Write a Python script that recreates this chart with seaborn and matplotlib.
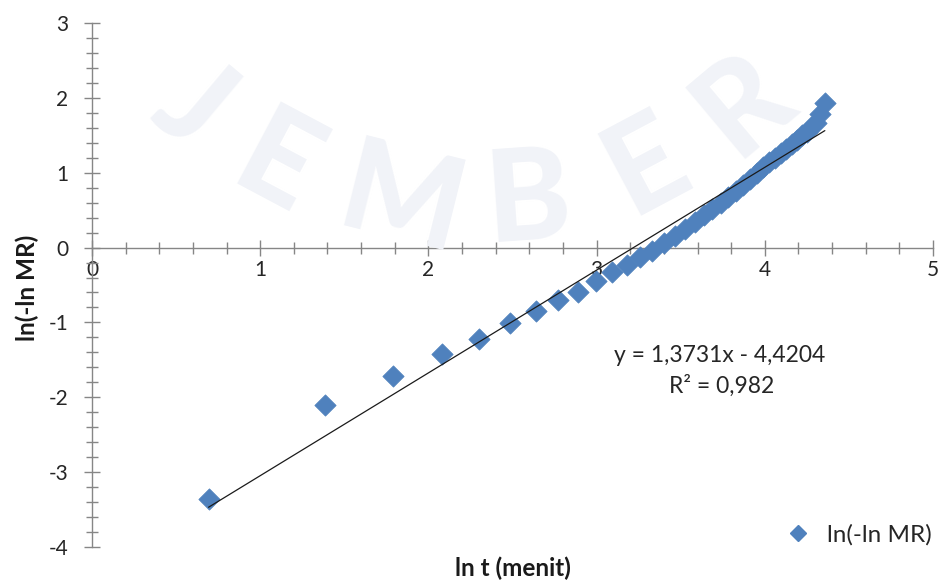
import matplotlib
matplotlib.use("Agg")
import matplotlib.pyplot as plt
import numpy as np
import pandas as pd
import seaborn as sns
from matplotlib.ticker import MultipleLocator
from matplotlib.lines import Line2D

# ln t (menit) for t = 2, 4, ..., 78 minutes
ln_t = [0.693, 1.386, 1.792, 2.079, 2.303, 2.485, 2.639, 2.773, 2.890, 2.996,
        3.091, 3.178, 3.258, 3.332, 3.401, 3.466, 3.526, 3.584, 3.638, 3.689,
        3.738, 3.784, 3.829, 3.871, 3.912, 3.951, 3.989, 4.025, 4.060, 4.094,
        4.127, 4.159, 4.190, 4.220, 4.248, 4.277, 4.304, 4.331, 4.357]
# ln(-ln MR)
ln_ln_mr = [-3.36, -2.10, -1.72, -1.42, -1.22, -1.01, -0.85, -0.70, -0.59, -0.44,
            -0.33, -0.23, -0.13, -0.04, 0.06, 0.15, 0.25, 0.34, 0.43, 0.51,
            0.59, 0.67, 0.76, 0.83, 0.91, 0.99, 1.07, 1.14, 1.20, 1.26,
            1.32, 1.38, 1.44, 1.50, 1.55, 1.61, 1.67, 1.78, 1.93]

# linear trendline
slope = 1.3731
intercept = -4.4204
r_squared = 0.982

x_ticks = [0, 1, 2, 3, 4, 5]
y_ticks = [-4, -3, -2, -1, 0, 1, 2, 3]

watermark = ["J", "E", "M", "B", "E", "R"]

df = pd.DataFrame({"ln t (menit)": ln_t, "ln(-ln MR)": ln_ln_mr})

sns.set_style("white")
plt.rcParams["font.family"] = ["Lato", "DejaVu Sans"]
plt.rcParams["axes.unicode_minus"] = False

W, H = 942, 583
fig = plt.figure(figsize=(W / 100, H / 100), dpi=100)
fig.patch.set_facecolor("white")

# faint emblem lettering in the background
wm_pos = [(192, 108, -40), (276, 168, -28), (401, 204, -14),
          (528, 202, 4), (646, 166, 28), (743, 104, 40)]
for ch, (px, py, rot) in zip(watermark, wm_pos):
    fig.text(px / W, 1 - py / H, ch, fontsize=92, fontweight="black",
             family="Lato", color="#f1f3f8", ha="center", va="center",
             rotation=rot, zorder=0)

ax = fig.add_axes([92 / W, 36 / H, 841 / W, 524 / H])
ax.patch.set_alpha(0)

blue = "#4f81bd"
sns.scatterplot(data=df, x="ln t (menit)", y="ln(-ln MR)", ax=ax,
                marker="D", s=118, color=blue, edgecolor=blue,
                linewidth=0.5, zorder=3, legend=False)

xf = np.array([min(ln_t), max(ln_t)])
ax.plot(xf, slope * xf + intercept, color="#1a1a1a", lw=0.9, zorder=4)

ax.set_xlim(0, 5)
ax.set_ylim(-4, 3)
ax.set_xticks(x_ticks)
ax.set_yticks(y_ticks)
ax.xaxis.set_minor_locator(MultipleLocator(0.2))
ax.yaxis.set_minor_locator(MultipleLocator(0.2))

axis_col = "#868686"
for side in ("top", "right"):
    ax.spines[side].set_visible(False)
ax.spines["left"].set_position(("data", 0))
ax.spines["bottom"].set_position(("data", 0))
for side in ("left", "bottom"):
    ax.spines[side].set_color(axis_col)
    ax.spines[side].set_linewidth(1.0)

ax.tick_params(which="both", bottom=True, left=True, top=False, right=False)
ax.tick_params(which="major", direction="inout", length=12, width=1,
               color=axis_col, labelsize=15, labelcolor="#262626")
ax.tick_params(which="minor", direction="inout", length=8.5, width=1,
               color=axis_col)
ax.tick_params(axis="x", which="major", pad=3)
ax.tick_params(axis="y", which="major", pad=11)
ax.set_axisbelow(True)

ax.set_xlabel("ln t (menit)", fontsize=17.5, fontweight="bold",
              color="#1a1a1a", va="center")
ax.set_ylabel("ln(-ln MR)", fontsize=17.5, fontweight="bold",
              color="#1a1a1a", va="center")
ax.xaxis.set_label_coords(0.5, (547 - 568) / 524)
ax.yaxis.set_label_coords((27 - 92) / 841, (547 - 288) / 524)

eq = f"y = {slope:.4f}x - {abs(intercept):.4f}".replace(".", ",")
r2 = f"R² = {r_squared:.3f}".replace(".", ",")
fig.text(720 / W, 1 - 355 / H, eq, fontsize=16.5, color="#262626",
         ha="center", va="center")
fig.text(722 / W, 1 - 386 / H, r2, fontsize=16.5, color="#262626",
         ha="center", va="center")

handle = Line2D([], [], marker="D", linestyle="none", markersize=8,
                color=blue, markeredgecolor=blue)
ax.legend([handle], ["ln(-ln MR)"], loc="center right",
          bbox_to_anchor=(932 / W, 1 - 535 / H),
          bbox_transform=fig.transFigure, frameon=False, fontsize=17.5,
          handlelength=1.2, handletextpad=0.6, borderaxespad=0,
          borderpad=0, labelcolor="#262626")

fig.savefig("out.png", dpi=100)
